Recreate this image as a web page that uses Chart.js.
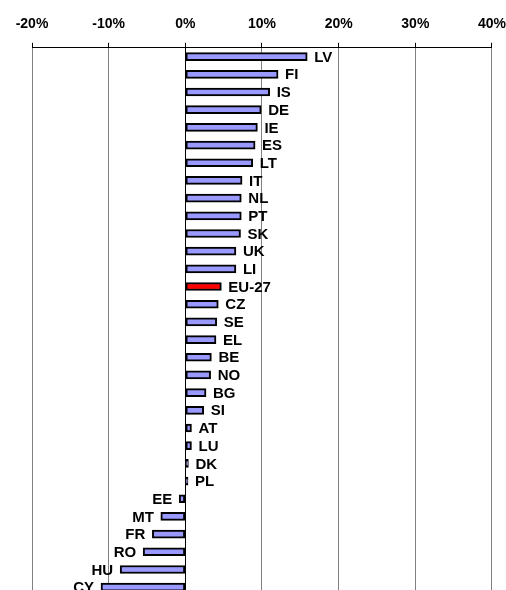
<!DOCTYPE html>
<html>
<head>
<meta charset="utf-8">
<script src="https://cdn.jsdelivr.net/npm/chart.js@4"></script>
<style>
  html, body { margin: 0; padding: 0; background: #fff; overflow: hidden; }
  #wrap { width: 506px; height: 590px; overflow: hidden; }
</style>
</head>
<body>
<div id="wrap"><canvas id="myChart" width="516" height="600"></canvas></div>
<script>
// countries, top to bottom
const countries = ["LV", "FI", "IS", "DE", "IE", "ES", "LT", "IT", "NL", "PT", "SK", "UK", "LI", "EU-27",
  "CZ", "SE", "EL", "BE", "NO", "BG", "SI", "AT", "LU", "DK", "PL", "EE", "MT", "FR", "RO", "HU", "CY"];
// change in %
const values = [15.9, 12.1, 11.0, 9.9, 9.4, 9.1, 8.8, 7.4, 7.3, 7.3, 7.2, 6.6, 6.6, 4.7,
  4.3, 4.1, 4.0, 3.4, 3.3, 2.7, 2.4, 0.8, 0.8, 0.4, 0.35, -0.8, -3.2, -4.3, -5.5, -8.5, -11.0];
const xTicks = [-20, -10, 0, 10, 20, 30, 40];

const barColors = countries.map(c => c === "EU-27" ? '#ff0000' : '#9999ff');

// country names next to bar ends
const endLabels = {
    id: 'endLabels',
    afterDatasetsDraw(chart) {
        const ctx = chart.ctx;
        const meta = chart.getDatasetMeta(0);
        ctx.save();
        ctx.font = 'bold 15px "Liberation Sans", Arial, sans-serif';
        ctx.fillStyle = '#000';
        ctx.textBaseline = 'middle';
        meta.data.forEach((bar, i) => {
            if (values[i] >= 0) {
                ctx.textAlign = 'left';
                ctx.fillText(countries[i], bar.x + 7, bar.y + 1);
            } else {
                ctx.textAlign = 'right';
                ctx.fillText(countries[i], bar.x - 7, bar.y + 1);
            }
        });
        ctx.restore();
    }
};

var ctx = document.getElementById('myChart').getContext('2d');
var chart = new Chart(ctx, {
    type: 'bar',
    data: {
        labels: countries,
        datasets: [{
            data: values,
            backgroundColor: barColors,
            borderColor: '#000',
            borderWidth: 2,
            borderSkipped: false,
            barThickness: 8,
        }]
    },
    options: {
        indexAxis: 'y',
        responsive: false,
        animation: false,
        layout: { padding: { left: 32, right: 0, top: 6, bottom: 4 } },
        plugins: {
            legend: { display: false },
            tooltip: { enabled: false },
        },
        scales: {
            x: {
                position: 'top',
                min: -20,
                max: 40,
                afterBuildTicks: axis => { axis.ticks = xTicks.map(v => ({ value: v })); },
                ticks: {
                    color: '#000',
                    padding: 10,
                    font: { family: '"Liberation Sans", Arial, sans-serif', size: 14, weight: 'bold' },
                    callback: v => v + '%',
                },
                grid: {
                    color: c => c.tick && c.tick.value === 0 ? '#000' : '#808080',
                    tickColor: '#000',
                    tickLength: 5,
                    lineWidth: 1,
                },
                border: { color: '#000', width: 1 },
            },
            y: {
                display: false,
            }
        }
    },
    plugins: [endLabels]
});
</script>
</body>
</html>
